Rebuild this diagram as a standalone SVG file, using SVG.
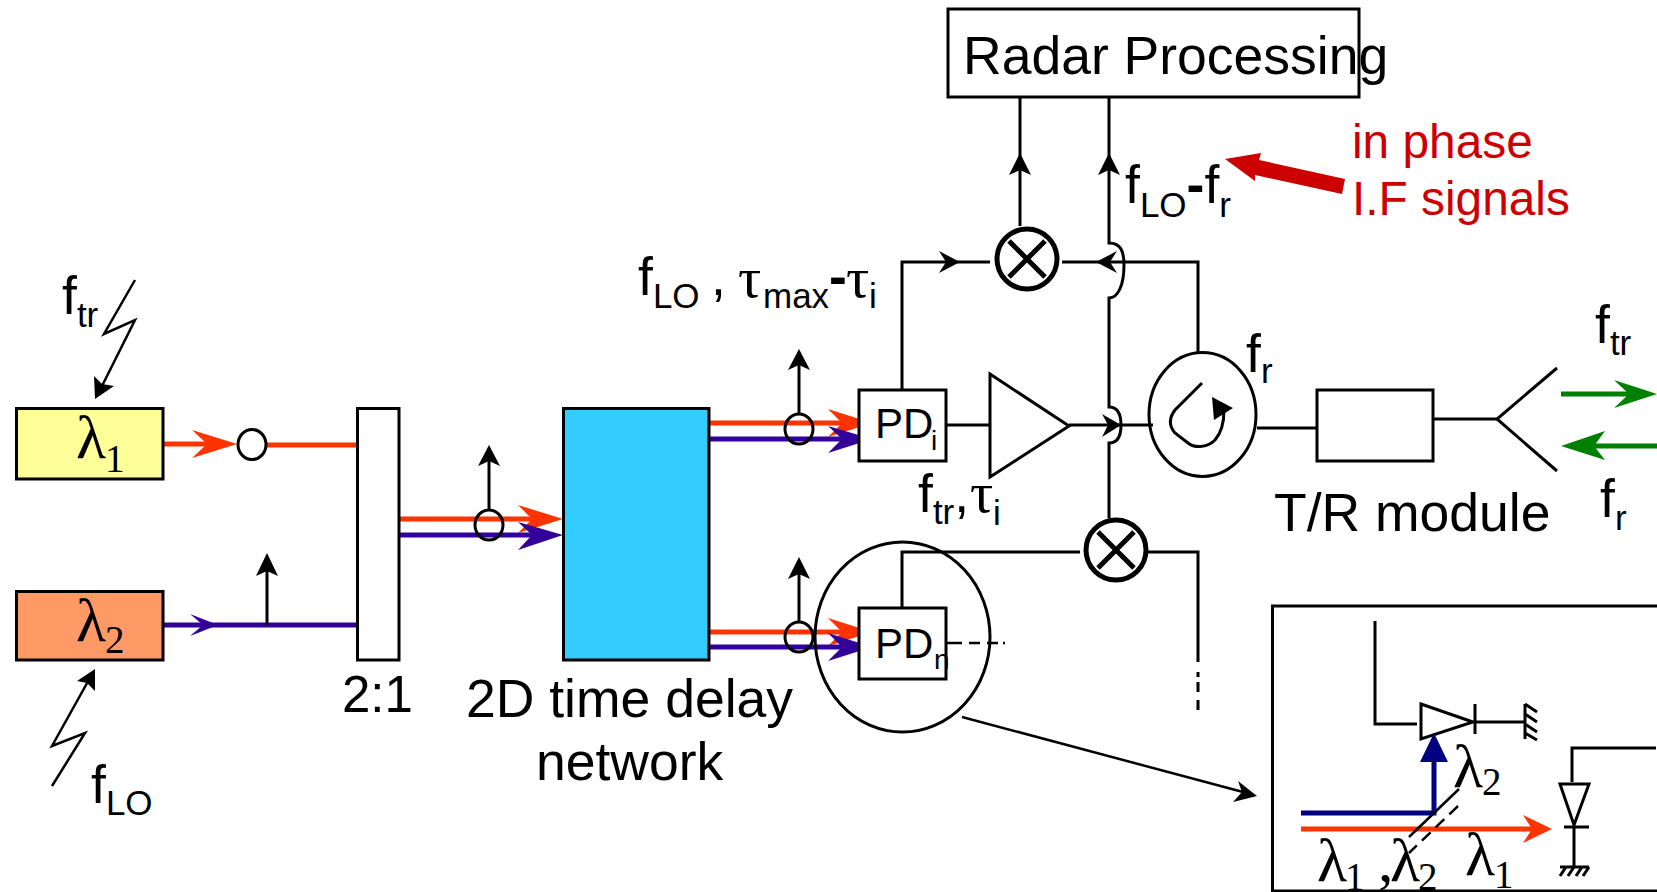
<svg xmlns="http://www.w3.org/2000/svg" width="1657" height="892" viewBox="0 0 1657 892">
<defs>
<style>
text{font-family:"Liberation Sans",Arial,sans-serif;fill:#000}
.t{font-size:53.5px}.s{font-size:35px}
.gr{font-family:"Liberation Serif","Times New Roman",serif;font-size:58px}
.l{font-family:"Liberation Serif","Times New Roman",serif;font-size:62px}
.ls{font-family:"Liberation Serif","Times New Roman",serif;font-size:39px}
.pd{font-size:42px}.ps{font-size:28px}
.red{font-size:47.800px;fill:#cc0000}
.b{fill:#fff;stroke:#000;stroke-width:3}
.ln{fill:none;stroke:#000;stroke-width:3}
.th{fill:none;stroke:#000;stroke-width:2.500}
.o{fill:none;stroke:#ff3300;stroke-width:5}
.p{fill:none;stroke:#330099;stroke-width:5}
.g{fill:none;stroke:#008000;stroke-width:5}
.hk{fill:#000;stroke:none}.ho{fill:#ff3300}.hp{fill:#330099}.hg{fill:#008000}
.mx{fill:#fff;stroke:#000;stroke-width:5}
.cr{fill:none;stroke:#000;stroke-width:5}
</style>
</defs>
<g id="connectors">
<path class="th" d="M135 280L104 334L135 320L100 390"/><path class="hk" d="M95 399L94 376L102 384L114 386Z"/>
<path class="th" d="M52 786L85 733L52 746L91 676"/><path class="hk" d="M95 669L77 681L87 683L95 691Z"/>
<path class="o" d="M163 444H210M267 445H357"/><path class="ho" d="M237 444L192 430L207 444L192 458Z"/>
<ellipse class="ln" cx="252" cy="444.500" rx="14" ry="15"/>
<path class="p" d="M163 625H357"/><path class="hp" d="M218 625L190 614L203 625L190 636Z"/>
<path class="ln" d="M267 625V570"/><path class="hk" d="M267 553L256 576L267 571L278 576Z"/>
<path class="o" d="M399 519H545"/><path class="ho" d="M563 519L518 505L532 519L518 533Z"/>
<path class="p" d="M399 535H545"/><path class="hp" d="M563 535L518 522L532 535L518 550Z"/>
<ellipse class="ln" cx="489" cy="525" rx="14" ry="15"/>
<path class="ln" d="M489 510V460"/><path class="hk" d="M489 445L478 466L489 461L500 466Z"/>
<path class="o" d="M709 423H855"/><path class="ho" d="M872 423L828 409L842 423L828 437Z"/>
<path class="p" d="M709 439H855"/><path class="hp" d="M872 439L828 426L842 439L828 453Z"/>
<ellipse class="ln" cx="799" cy="429" rx="14" ry="15"/>
<path class="ln" d="M799 414V365"/><path class="hk" d="M799 349L788 370L799 365L810 370Z"/>
<path class="o" d="M709 632H855"/><path class="ho" d="M872 632L828 618L842 632L828 646Z"/>
<path class="p" d="M709 647H855"/><path class="hp" d="M872 647L828 633L842 647L828 661Z"/>
<ellipse class="ln" cx="799" cy="637" rx="14" ry="15"/>
<path class="ln" d="M799 622V572"/><path class="hk" d="M799 557L788 579L799 574L810 579Z"/>
<path class="ln" d="M1020 97V226"/><path class="hk" d="M1020 153L1009 175L1020 170L1031 175Z"/>
<path class="ln" d="M1109 97V243C1120 243 1124 250 1124 265C1124 285 1118 298 1109 298V407C1118 407 1121 415 1121 425C1121 435 1118 443 1109 443V518"/><path class="hk" d="M1109 153L1098 175L1109 170L1120 175Z"/>
<path class="ln" d="M902 390V262H990M1062 262H1198V352"/><path class="hk" d="M960 262L939 251L946 262L939 273Z"/><path class="hk" d="M1096 262L1117 251L1110 262L1117 273Z"/>
<path class="ln" d="M946 425H990M1069 425H1153"/><path class="hk" d="M1121 425L1102 414L1108 425L1102 437Z"/>
<path class="ln" d="M1257 428H1317M1433 419H1497"/>
<path class="ln" d="M1557 368L1497 419L1557 471"/>
<path class="g" d="M1561 394H1640"/><path class="hg" d="M1657 394L1614 380L1629 394L1614 408Z"/>
<path class="g" d="M1580 446H1657"/><path class="hg" d="M1561 446L1605 431L1594 446L1605 460Z"/>
<path fill="#cc0000" d="M1225 159L1261 153L1259 160L1345 179L1342 194L1255 175L1255 181Z"/>
<path class="ln" d="M902 608V552H1080M1138 552H1198V662M1198 672V677M1198 682V692M1198 700V710"/>
<path class="th" d="M947 643H962M969 643H980M987 643H998M1003 643H1005"/>
<path class="th" d="M962 717L1243 792"/><path class="hk" d="M1257 796L1238 781L1242 792L1233 802Z"/>
</g>
<g id="laser1"><rect x="16.500" y="408.500" width="146.500" height="70.500" fill="#ffff99" stroke="#000" stroke-width="3"/><text class="l" x="76" y="458">λ</text><text class="ls" x="105" y="472">1</text></g>
<g id="laser2"><rect x="16.500" y="591.500" width="146.500" height="68.500" fill="#ff9966" stroke="#000" stroke-width="3"/><text class="l" x="76" y="641">λ</text><text class="ls" x="105" y="653">2</text></g>
<g id="combiner"><rect class="b" x="357.500" y="408.500" width="41.500" height="251.500"/><text x="342" y="712" font-size="51">2:1</text></g>
<g id="delay"><rect x="563.500" y="408.500" width="145.500" height="251.500" fill="#33ccff" stroke="#000" stroke-width="3"/><text class="t" x="466" y="717">2D time delay</text><text class="t" x="536" y="780">network</text></g>
<g id="radar"><rect class="b" x="948" y="9" width="411" height="88"/><text class="t" x="963" y="74">Radar Processing</text></g>
<g id="pdi"><rect class="b" x="859" y="390" width="87" height="71"/><text class="pd" x="875" y="438">PD</text><text class="ps" x="931" y="450">i</text></g>
<g id="pdn"><rect class="b" x="859" y="608" width="87" height="71"/><text class="pd" x="875" y="658">PD</text><text class="ps" x="934" y="669">n</text><ellipse class="ln" cx="902.500" cy="637" rx="87.500" ry="95"/></g>
<g id="amp"><path class="b" d="M990 374L1069 426L990 477Z"/></g>
<g id="mixer1"><circle class="mx" cx="1027" cy="259" r="30"/><path class="cr" d="M1009 241L1045 277M1045 241L1009 277"/></g>
<g id="mixer2"><circle class="mx" cx="1116" cy="550" r="30"/><path class="cr" d="M1098 532L1134 568M1134 532L1098 568"/></g>
<g id="circulator"><ellipse class="ln" cx="1202.500" cy="414.500" rx="53.500" ry="62"/><path class="ln" d="M1202 383L1175 410C1169 418 1169 426 1175 433L1188 443C1196 449 1208 447 1215 440C1222 432 1224 422 1224 410"/><path class="hk" d="M1212 397L1233 408L1214 420Z"/></g>
<g id="trmodule"><rect class="b" x="1317" y="390" width="116" height="71"/><text class="t" x="1274" y="531">T/R module</text></g>
<g id="labels">
<text class="t" x="62" y="314">f<tspan class="s" dy="13">tr</tspan></text>
<text class="t" x="91" y="803">f<tspan class="s" dy="12">LO</tspan></text>
<text class="t" x="638" y="295">f<tspan class="s" dy="13">LO</tspan></text><text class="t" x="711" y="295">,</text>
<text class="gr" x="738" y="297">τ</text><text class="s" x="763" y="308">max</text><text class="t" x="829" y="295" font-weight="bold">-</text><text class="gr" x="846" y="297">τ</text><text class="s" x="869" y="308">i</text>
<text class="t" x="918" y="512">f<tspan class="s" dy="12">tr</tspan><tspan dy="-12">,</tspan></text><text class="gr" x="970" y="512">τ</text><text class="s" x="993" y="525">i</text>
<text class="t" x="1125" y="203">f<tspan class="s" dy="14">LO</tspan><tspan dy="-14" font-weight="bold">-</tspan><tspan>f</tspan><tspan class="s" dy="14">r</tspan></text>
<text class="t" x="1246" y="372">f<tspan class="s" dy="11">r</tspan></text>
<text class="t" x="1595" y="343">f<tspan class="s" dy="12">tr</tspan></text>
<text class="t" x="1600" y="517">f<tspan class="s" dy="13">r</tspan></text>
<text class="red" x="1352" y="158">in phase</text>
<text class="red" x="1352" y="215">I.F signals</text>
</g>
<g id="inset">
<rect class="b" x="1272.500" y="606" width="400" height="285"/>
<path class="ln" d="M1375 621V724H1417"/>
<path class="b" d="M1421 704L1473 722L1421 739Z"/>
<path class="ln" d="M1475 704V734M1475 722H1525M1525 704V739M1525 704L1537 712M1525 714L1537 722M1525 724L1537 732M1525 733L1537 740"/>
<path fill="none" stroke="#000080" stroke-width="5" d="M1301 813H1434V755"/><path fill="#000080" d="M1434 733L1420 762H1448Z"/>
<path class="o" d="M1301 829H1535"/><path class="ho" d="M1552 829L1523 815L1532 829L1523 843Z"/>
<path class="th" d="M1459 789L1409 837"/><path class="th" stroke-dasharray="12 7" d="M1458 806L1409 853"/>
<path class="ln" d="M1572 782V748H1656"/>
<path class="b" d="M1560 784H1589L1574 825Z"/>
<path class="ln" d="M1564 827H1589M1574 827V867M1560 867H1589M1566 867L1560 876M1574 867L1568 876M1582 867L1576 876M1589 867L1583 876"/>
<text class="l" x="1453" y="787">λ</text><text class="ls" x="1482" y="795">2</text>
<text class="l" x="1317" y="881">λ</text><text class="ls" x="1345" y="890">1</text>
<text class="l" x="1378" y="881">,</text><text class="l" x="1390" y="881">λ</text><text class="ls" x="1418" y="890">2</text>
<text class="l" x="1465" y="875">λ</text><text class="ls" x="1494" y="888">1</text>
</g>
</svg>
